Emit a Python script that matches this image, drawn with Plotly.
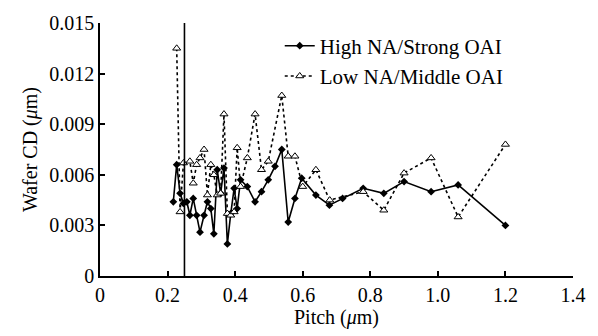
import plotly.graph_objects as go

# Pitch (um) and wafer CD (um) for the two illumination settings
pitch_high = [0.217, 0.227, 0.237, 0.247, 0.257, 0.266, 0.276, 0.286, 0.296, 0.308,
              0.318, 0.328, 0.337, 0.347, 0.357, 0.367, 0.377, 0.387, 0.397, 0.406,
              0.416, 0.436, 0.459, 0.478, 0.498, 0.518, 0.538, 0.557, 0.577, 0.597,
              0.639, 0.679, 0.718, 0.779, 0.840, 0.900, 0.980, 1.060, 1.200]
cd_high = [0.0044, 0.0066, 0.0049, 0.0043, 0.0044, 0.0036, 0.0046, 0.0036, 0.0026, 0.0036,
           0.0044, 0.0040, 0.0025, 0.0063, 0.0049, 0.0064, 0.0019, 0.0037, 0.0052, 0.0040,
           0.0057, 0.0053, 0.0044, 0.0050, 0.0057, 0.0065, 0.0075, 0.0032, 0.0046, 0.0058,
           0.0048, 0.0042, 0.0046, 0.0052, 0.0049, 0.0056, 0.0050, 0.0054, 0.0030]

pitch_low = [0.227, 0.237, 0.247, 0.266, 0.276, 0.286, 0.296, 0.308, 0.318, 0.328,
             0.337, 0.347, 0.357, 0.367, 0.377, 0.387, 0.397, 0.406, 0.416, 0.436,
             0.459, 0.478, 0.498, 0.538, 0.557, 0.577, 0.600, 0.639, 0.680, 0.779,
             0.840, 0.900, 0.980, 1.060, 1.200]
cd_low = [0.0135, 0.0038, 0.0067, 0.0068, 0.0055, 0.0066, 0.0070, 0.0075, 0.0048, 0.0066,
          0.0060, 0.0048, 0.0049, 0.0096, 0.0037, 0.0036, 0.0038, 0.0076, 0.0053, 0.0070,
          0.0096, 0.0063, 0.0068, 0.0107, 0.0071, 0.0071, 0.0053, 0.0063, 0.0045, 0.0050,
          0.0039, 0.0061, 0.0070, 0.0035, 0.0078]

x_ticks = [0, 0.2, 0.4, 0.6, 0.8, 1.0, 1.2, 1.4]
x_tick_text = ["0", "0.2", "0.4", "0.6", "0.8", "1.0", "1.2", "1.4"]
y_ticks = [0, 0.003, 0.006, 0.009, 0.012, 0.015]
y_tick_text = ["0", "0.003", "0.006", "0.009", "0.012", "0.015"]

marker_pitch = 0.25

FONT = "Liberation Serif, Times New Roman, serif"

fig = go.Figure()
fig.add_trace(go.Scatter(
    x=pitch_high, y=cd_high, mode="lines+markers", name="High NA/Strong OAI",
    line=dict(color="black", width=1.6),
    marker=dict(symbol="diamond", size=6, color="black"),
))
fig.add_trace(go.Scatter(
    x=pitch_low, y=cd_low, mode="lines+markers", name="Low NA/Middle OAI",
    line=dict(color="black", width=1.6, dash="dot"),
    marker=dict(symbol="triangle-up", size=7, color="white",
                line=dict(color="black", width=1)),
))
fig.add_shape(type="line", x0=marker_pitch, x1=marker_pitch, y0=0, y1=0.015,
              xref="x", yref="y", line=dict(color="black", width=1.6))

fig.update_layout(
    width=598, height=336,
    margin=dict(l=100, r=25, t=15, b=60),
    plot_bgcolor="white", paper_bgcolor="white",
    font=dict(family=FONT, size=20, color="black"),
    showlegend=True,
    legend=dict(x=0.38, y=0.99, xanchor="left", yanchor="top",
                bgcolor="rgba(0,0,0,0)", font=dict(size=21),
                tracegroupgap=0, itemwidth=30),
    xaxis=dict(range=[0, 1.4], tickvals=x_ticks, ticktext=x_tick_text,
               showline=True, linecolor="black", linewidth=1.5,
               ticks="inside", ticklen=5, tickwidth=1.5, tickcolor="black",
               showgrid=False, zeroline=False,
               title=dict(text="Pitch (<i>μ</i>m)", font=dict(size=20), standoff=4)),
    yaxis=dict(range=[0, 0.015], tickvals=y_ticks, ticktext=y_tick_text,
               showline=True, linecolor="black", linewidth=1.5,
               ticks="inside", ticklen=5, tickwidth=1.5, tickcolor="black",
               showgrid=False, zeroline=False,
               title=dict(text="Wafer CD (<i>μ</i>m)", font=dict(size=20), standoff=6)),
)

fig.write_html("out.html")
